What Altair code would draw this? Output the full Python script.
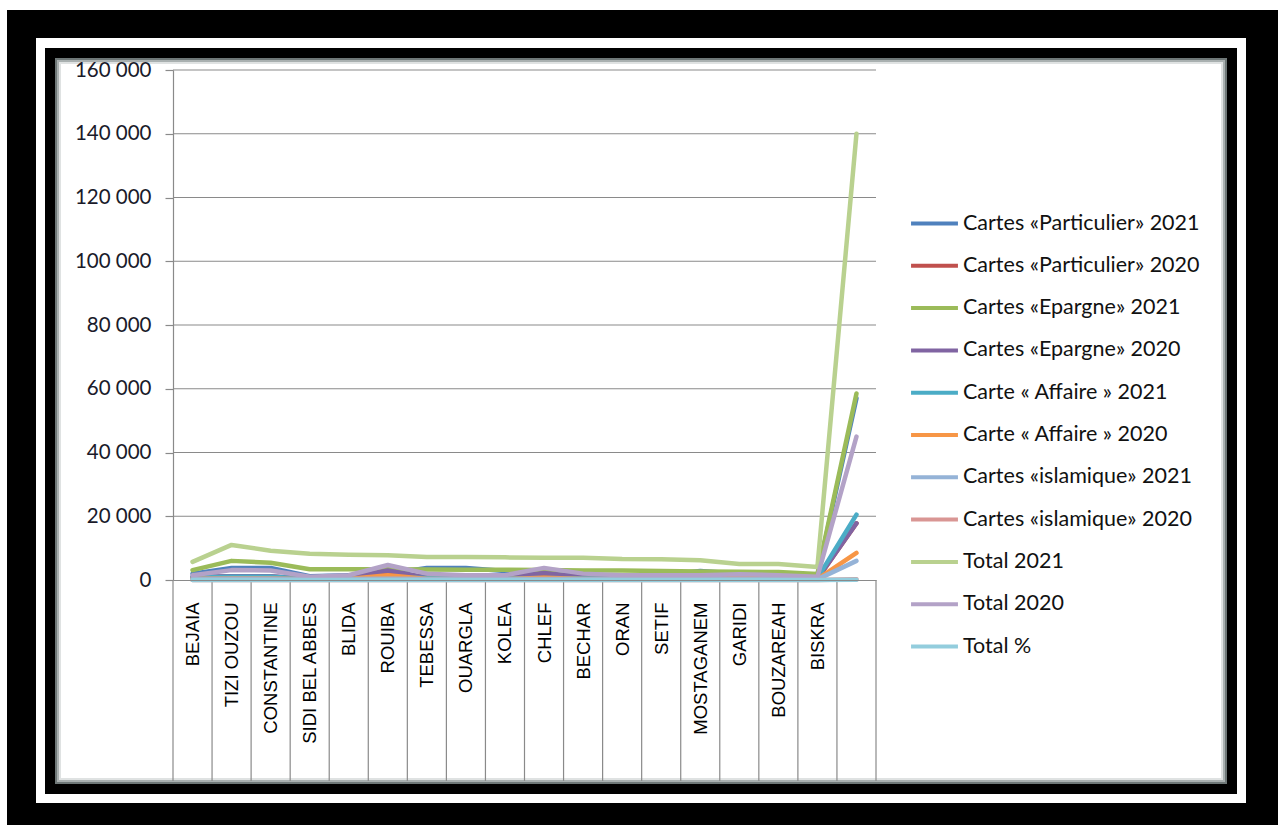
import altair as alt
import pandas as pd

categories = ["BEJAIA", "TIZI OUZOU", "CONSTANTINE", "SIDI BEL ABBES", "BLIDA", "ROUIBA",
              "TEBESSA", "OUARGLA", "KOLEA", "CHLEF", "BECHAR", "ORAN", "SETIF",
              "MOSTAGANEM", "GARIDI", "BOUZAREAH", "BISKRA", ""]

series_names = ["Cartes «Particulier» 2021", "Cartes «Particulier» 2020",
                "Cartes «Epargne»  2021", "Cartes «Epargne»  2020",
                "Carte « Affaire » 2021", "Carte « Affaire » 2020",
                "Cartes «islamique»  2021", "Cartes «islamique»  2020",
                "Total 2021", "Total 2020", "Total %"]
series_colors = ["#4F81BD", "#C0504D", "#9BBB59", "#8064A2", "#4BACC6", "#F79646",
                 "#95B3D7", "#D99694", "#B9D18F", "#B3A2C7", "#93CDDD"]

part_2021 = [2000, 3800, 3800, 1200, 1500, 2000, 3800, 3800, 2800, 1800, 1500, 1500, 1500, 2800, 2000, 1500, 1500, 57000]
part_2020 = [800, 1000, 1000, 400, 600, 2500, 700, 500, 600, 1800, 800, 600, 600, 500, 800, 600, 300, 17800]
epar_2021 = [3100, 6000, 5400, 3400, 3400, 3400, 3300, 3200, 3200, 3100, 3000, 3000, 2800, 2700, 2600, 2500, 1900, 58500]
epar_2020 = [1000, 1200, 1200, 500, 800, 3000, 800, 600, 700, 2200, 900, 700, 700, 600, 900, 700, 400, 17800]
aff_2021 = [800, 1000, 1000, 400, 500, 800, 600, 500, 500, 600, 500, 500, 500, 600, 500, 500, 600, 20500]
aff_2020 = [400, 500, 500, 200, 300, 1500, 300, 300, 300, 700, 300, 300, 300, 300, 800, 300, 300, 8500]
isl_2021 = [300, 400, 400, 200, 300, 400, 300, 300, 300, 300, 300, 300, 300, 300, 300, 300, 200, 6000]
isl_2020 = [20, 30, 30, 10, 20, 30, 20, 20, 20, 20, 20, 20, 20, 20, 20, 20, 10, 200]
tot_2021 = [5700, 11000, 9200, 8200, 7900, 7800, 7200, 7200, 7100, 7000, 7000, 6600, 6500, 6200, 5000, 5000, 4100, 140000]
tot_2020 = [1500, 3100, 3000, 1000, 1500, 4700, 2000, 1500, 1500, 3800, 2000, 1500, 1500, 1500, 1800, 1500, 1000, 45000]
tot_pct = [1, 2, 2, 1, 1, 1, 1, 1, 1, 1, 1, 1, 1, 1, 1, 1, 1, 100]

y_ticks = [0, 20000, 40000, 60000, 80000, 100000, 120000, 140000, 160000]

all_values = [part_2021, part_2020, epar_2021, epar_2020, aff_2021, aff_2020,
              isl_2021, isl_2020, tot_2021, tot_2020, tot_pct]

rows = []
for s_i, (name, vals) in enumerate(zip(series_names, all_values)):
    for i, v in enumerate(vals):
        rows.append({"series": name, "pos": i + 0.5, "value": v, "k": s_i})
df = pd.DataFrame(rows)

W, H = 703, 510
n = len(categories)
label_expr = "[" + ",".join("'" + c + "'" for c in categories) + "][floor(datum.value)]"

x_scale = alt.Scale(domain=[0, n], nice=False, zero=False)
y_scale = alt.Scale(domain=[0, 160000], nice=False)

x_axis = alt.Axis(values=[i + 0.5 for i in range(n)], labelExpr=label_expr, ticks=False,
                  domainColor="#8a8a8a", domainWidth=1.2, labelAngle=-90, labelPadding=22,
                  labelFont="Liberation Sans", labelFontSize=18.5, labelColor="#000000",
                  labelOverlap=False, labelBound=False, labelFlush=False, grid=False,
                  title=None, zindex=1)
y_axis = alt.Axis(values=y_ticks, grid=False, domainColor="#8a8a8a", domainWidth=1.2,
                  tickColor="#8a8a8a", tickSize=8, tickWidth=1.2, labelPadding=14,
                  labelFont="Lato", labelFontSize=20.5, labelColor="#1a1a2a",
                  labelExpr="replace(format(datum.value, ',d'), ',', ' ')", title=None, zindex=1)

one = alt.Data(values=[{"a": 1}])


def frame(x1, y1, x2, y2, color):
    return alt.Chart(one).mark_rect(color=color).encode(
        x=alt.value(x1), x2=alt.value(x2), y=alt.value(y1), y2=alt.value(y2))


# page coords -> plot coords (origin 173, 70)
OX, OY = 173, 70
frames = [
    frame(7 - OX, 10 - OY, 1278 - OX, 825 - OY, "#000000"),
    frame(36 - OX, 38 - OY, 1246 - OX, 803 - OY, "#ffffff"),
    frame(45 - OX, 48 - OY, 1237 - OX, 794 - OY, "#000000"),
    frame(55 - OX, 58 - OY, 1227 - OX, 784 - OY, "#6f7878"),
    frame(57 - OX, 60 - OY, 1225 - OX, 782 - OY, "#a9b0b0"),
    frame(59 - OX, 62 - OY, 1223 - OX, 780 - OY, "#dfe2e2"),
    frame(61 - OX, 64 - OY, 1221 - OX, 778 - OY, "#ffffff"),
]

grid = alt.Chart(pd.DataFrame({"t": y_ticks[1:]})).mark_rule(color="#8a8a8a", strokeWidth=1.2).encode(
    y=alt.Y("t:Q", scale=y_scale, axis=y_axis),
    x=alt.value(0), x2=alt.value(W))

seps = alt.Chart(pd.DataFrame({"b": list(range(n + 1))})).mark_rule(color="#8a8a8a", strokeWidth=1.2).encode(
    x=alt.X("b:Q", scale=x_scale, axis=x_axis),
    y=alt.value(H), y2=alt.value(711))

lines = alt.Chart(df).mark_line(strokeWidth=4.5, strokeCap="round", strokeJoin="round").encode(
    x=alt.X("pos:Q", scale=x_scale, axis=x_axis),
    y=alt.Y("value:Q", scale=y_scale, axis=y_axis),
    color=alt.Color("series:N", scale=alt.Scale(domain=series_names, range=series_colors),
                    sort=series_names,
                    legend=alt.Legend(title=None, orient="none", legendX=736, legendY=128,
                                      symbolType="stroke", symbolStrokeWidth=4, symbolSize=2200,
                                      labelFont="Lato", labelFontSize=21.5, labelColor="#111111",
                                      labelLimit=0, rowPadding=6.3, labelOffset=3, zindex=2)),
    detail="series:N",
    order="pos:Q",
)

chart = alt.layer(*frames, grid, seps, lines).properties(
    width=W, height=H,
    autosize=alt.AutoSizeParams(type="none"),
    padding={"left": OX, "top": OY, "right": 1278 - OX - W, "bottom": 825 - OY - H},
    background="#ffffff",
).configure_view(stroke=None)

chart.save("out.html", embed_options={"renderer": "svg", "actions": False})
